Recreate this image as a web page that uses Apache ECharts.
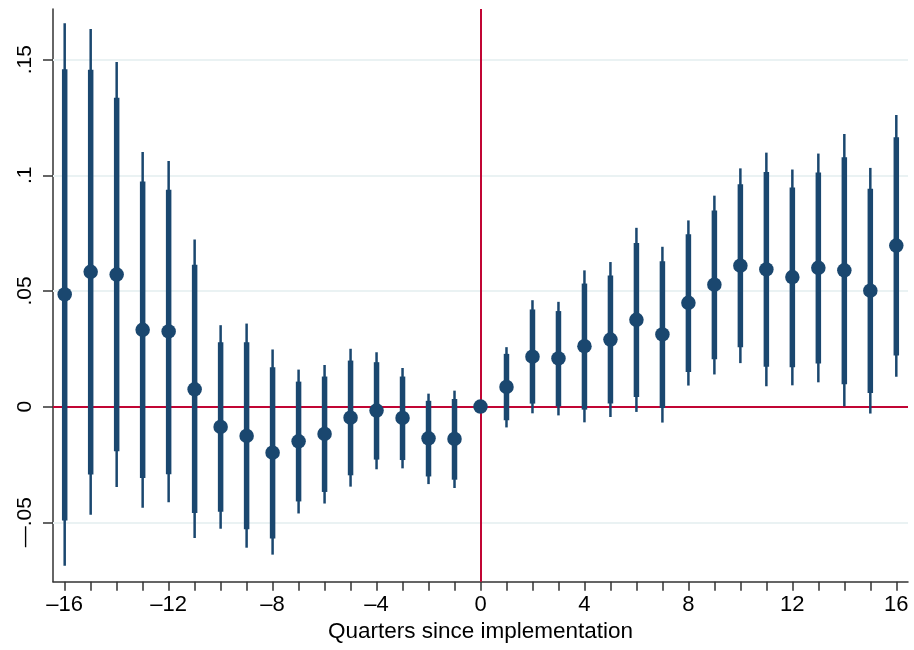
<!DOCTYPE html>
<html>
<head>
<meta charset="utf-8">
<script src="https://cdn.jsdelivr.net/npm/echarts@6/dist/echarts.min.js"></script>
<style>
  html, body { margin: 0; padding: 0; background: #fff; }
  #chart { width: 914px; height: 650px; }
</style>
</head>
<body>
<div id="chart"></div>
<script>
// Event-study estimates by quarter relative to implementation
const quarters = [-16,-15,-14,-13,-12,-11,-10,-9,-8,-7,-6,-5,-4,-3,-2,-1,0,1,2,3,4,5,6,7,8,9,10,11,12,13,14,15,16];
const coef = [0.0485,0.0583,0.0571,0.0332,0.0325,0.0075,-0.0088,-0.0127,-0.0199,-0.0150,-0.0118,-0.0048,-0.0017,-0.0049,-0.0137,-0.0140,0,0.0085,0.0216,0.0208,0.0261,0.0290,0.0375,0.0312,0.0449,0.0527,0.0609,0.0593,0.0560,0.0600,0.0589,0.0501,0.0696];
// inner (thick) interval
const innerLow = [-0.0492,-0.0293,-0.0193,-0.0309,-0.0292,-0.0460,-0.0455,-0.0530,-0.0570,-0.0410,-0.0369,-0.0297,-0.0229,-0.0231,-0.0302,-0.0316,null,-0.0059,0.0013,0.0001,-0.0013,0.0013,0.0042,-0.0006,0.0150,0.0205,0.0257,0.0172,0.0170,0.0186,0.0097,0.0059,0.0221];
const innerHigh = [0.1459,0.1456,0.1335,0.0973,0.0938,0.0613,0.0278,0.0278,0.0170,0.0108,0.0130,0.0199,0.0192,0.0130,0.0025,0.0033,null,0.0228,0.0420,0.0413,0.0532,0.0567,0.0707,0.0628,0.0745,0.0848,0.0961,0.1014,0.0947,0.1012,0.1078,0.0942,0.1165];
// outer (thin) interval
const outerLow = [-0.0688,-0.0468,-0.0348,-0.0437,-0.0414,-0.0568,-0.0528,-0.0610,-0.0640,-0.0462,-0.0419,-0.0346,-0.0271,-0.0267,-0.0335,-0.0352,null,-0.0090,-0.0029,-0.0038,-0.0068,-0.0045,-0.0023,-0.0069,0.0091,0.0139,0.0188,0.0088,0.0092,0.0105,0.0001,-0.0030,0.0129];
const outerHigh = [0.1657,0.1633,0.1490,0.1101,0.1062,0.0723,0.0352,0.0359,0.0247,0.0160,0.0180,0.0250,0.0235,0.0167,0.0056,0.0069,null,0.0257,0.0460,0.0453,0.0589,0.0625,0.0773,0.0691,0.0805,0.0912,0.1030,0.1098,0.1025,0.1094,0.1179,0.1032,0.1261];

const xTickValues = quarters;
const xLabelValues = [-16,-12,-8,-4,0,4,8,12,16];
const yLabelValues = [-0.05,0,0.05,0.1,0.15];
const yGridValues = [-0.05,0.05,0.1,0.15];

const navy = '#1a476f';
const cranberry = '#c10534';
const FONT = '"Liberation Sans", Arial, Helvetica, sans-serif';

function fmtY(v) {
  if (Math.abs(v) < 1e-9) return '0';
  const s = String(Math.round(v * 1000) / 1000).replace(/^(-?)0\./, '$1.');
  return s.replace('-', '\u2014');
}
function fmtX(v) {
  return String(v).replace('-', '\u2013');
}

const intervalData = quarters.map((q, i) => [q, outerLow[i], outerHigh[i], innerLow[i], innerHigh[i]])
  .filter(d => d[1] !== null);

const chart = echarts.init(document.getElementById('chart'), null, { renderer: 'canvas' });

chart.setOption({
  animation: false,
  backgroundColor: '#fff',
  grid: { left: 53, right: 6, top: 9, bottom: 68.3, containLabel: false },
  xAxis: {
    type: 'value',
    min: -16.45,
    max: 16.45,
    name: 'Quarters since implementation',
    nameLocation: 'middle',
    nameGap: 36,
    nameTextStyle: { fontFamily: FONT, fontSize: 22.5, color: '#000', verticalAlign: 'top' },
    axisLine: { show: true, onZero: false, lineStyle: { color: '#333', width: 1.5 } },
    axisTick: { show: true, inside: false, length: 9, customValues: xTickValues, lineStyle: { color: '#333', width: 1.5 } },
    axisLabel: { customValues: xLabelValues, formatter: fmtX, fontFamily: FONT, fontSize: 22, color: '#000', margin: 12 },
    splitLine: { show: false }
  },
  yAxis: {
    type: 'value',
    min: -0.0757,
    max: 0.1719,
    axisLine: { show: true, onZero: false, lineStyle: { color: '#333', width: 1.5 } },
    axisTick: { show: true, inside: false, length: 10, customValues: yLabelValues, lineStyle: { color: '#333', width: 1.5 } },
    axisLabel: { customValues: yLabelValues, formatter: fmtY, rotate: 90, fontFamily: FONT, fontSize: 21, color: '#000', margin: 17 },
    splitLine: { show: false }
  },
  series: [
    {
      // horizontal grid lines
      type: 'line',
      data: [],
      silent: true,
      z: 1,
      markLine: {
        z: 1,
        silent: true,
        symbol: 'none',
        label: { show: false },
        lineStyle: { color: '#eaf2f3', width: 2, type: 'solid' },
        data: yGridValues.map(v => ({ yAxis: v }))
      }
    },
    {
      // reference lines at zero
      type: 'line',
      data: [],
      silent: true,
      z: 2,
      markLine: {
        z: 2,
        silent: true,
        symbol: 'none',
        label: { show: false },
        lineStyle: { color: cranberry, width: 2, type: 'solid' },
        data: [{ yAxis: 0 }, { xAxis: 0 }]
      }
    },
    {
      type: 'custom',
      z: 3,
      data: intervalData,
      encode: { x: 0, y: [1, 2, 3, 4] },
      renderItem: function (params, api) {
        const x = api.value(0);
        const o1 = api.coord([x, api.value(1)]);
        const o2 = api.coord([x, api.value(2)]);
        const i1 = api.coord([x, api.value(3)]);
        const i2 = api.coord([x, api.value(4)]);
        return {
          type: 'group',
          children: [
            { type: 'line', shape: { x1: o1[0], y1: o1[1], x2: o2[0], y2: o2[1] }, style: { stroke: navy, lineWidth: 2.5 } },
            { type: 'line', shape: { x1: i1[0], y1: i1[1], x2: i2[0], y2: i2[1] }, style: { stroke: navy, lineWidth: 5.5 } }
          ]
        };
      }
    },
    {
      type: 'scatter',
      z: 4,
      symbol: 'circle',
      symbolSize: 14.5,
      itemStyle: { color: navy, opacity: 1 },
      data: quarters.map((q, i) => [q, coef[i]])
    }
  ]
});
</script>
</body>
</html>
